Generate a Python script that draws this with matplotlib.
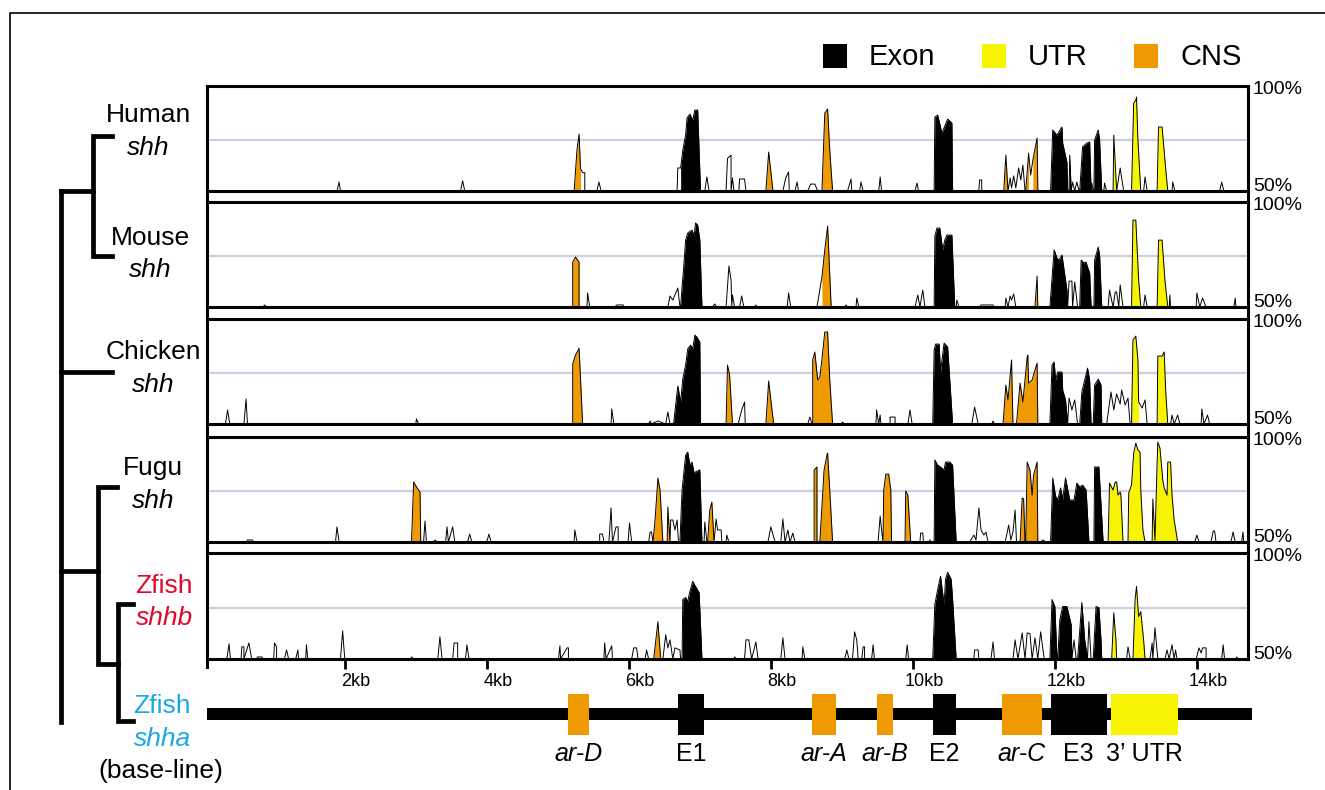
import numpy as np
import matplotlib
matplotlib.use('Agg')
import matplotlib.pyplot as plt
from matplotlib.lines import Line2D
from matplotlib.patches import Rectangle
from matplotlib.transforms import ScaledTranslation

plt.rcParams['font.family'] = ['Liberation Sans', 'DejaVu Sans']

# ---- data: conservation profiles (position in kb, % identity) ----
HUMAN = [
    (1.89, 50), (1.92, 54.4), (1.94, 50),
    (3.63, 50), (3.66, 55), (3.69, 50),
    (5.23, 50), (5.27, 70), (5.30, 78), (5.32, 61), (5.35, 59), (5.38, 59), (5.38, 50),
    (5.55, 50), (5.58, 54.4), (5.61, 50),
    (6.68, 50), (6.69, 61.3), (6.73, 61.3), (6.76, 70), (6.80, 77.4), (6.82, 85.8), (6.86, 87.7),
    (6.90, 84.8), (6.93, 89.7), (6.97, 89.7), (7.01, 50),
    (7.07, 50), (7.10, 56.9), (7.13, 50),
    (7.37, 50), (7.39, 66), (7.44, 67.6), (7.44, 50), (7.46, 56.4), (7.48, 50),
    (7.55, 50), (7.56, 55.9), (7.63, 55.9), (7.65, 50),
    (7.93, 50), (7.97, 69.1), (8.03, 50),
    (8.17, 50), (8.21, 56.4), (8.25, 59.3), (8.26, 50),
    (8.34, 50), (8.37, 54.4), (8.39, 50),
    (8.52, 50), (8.56, 53.4), (8.62, 53.4), (8.66, 50),
    (8.72, 50), (8.76, 88.2), (8.80, 90.2), (8.83, 70), (8.87, 50),
    (9.08, 50), (9.13, 55.9), (9.14, 50),
    (9.25, 50), (9.27, 54.4), (9.30, 50),
    (9.52, 50), (9.54, 56.9), (9.56, 50),
    (10.03, 50), (10.06, 53.9), (10.08, 50),
    (10.30, 50), (10.31, 86.3), (10.35, 87.2), (10.41, 78.4), (10.49, 85.3), (10.55, 83.3), (10.56, 50),
    (10.93, 50), (10.94, 55.4), (10.97, 55.4), (10.97, 50),
    (11.28, 50), (11.31, 67.6), (11.34, 50), (11.37, 56.4), (11.39, 51.5), (11.42, 57.4), (11.45, 51.5),
    (11.49, 61.3), (11.52, 55.4), (11.55, 62.7), (11.58, 50),
    (11.59, 50), (11.63, 68.6), (11.66, 57.8), (11.69, 65.2), (11.75, 76), (11.76, 50),
    (11.94, 50), (11.97, 79.9), (12.03, 77.4), (12.10, 81.4), (12.11, 73.5), (12.17, 64.2), (12.18, 50),
    (12.20, 50), (12.21, 67.6), (12.23, 50), (12.25, 54.4), (12.28, 50), (12.31, 54.4), (12.34, 50),
    (12.35, 50), (12.39, 71.6), (12.45, 73.5), (12.49, 74), (12.51, 50), (12.52, 53.9), (12.54, 50),
    (12.55, 50), (12.56, 75), (12.61, 79.9), (12.63, 75), (12.66, 50),
    (12.69, 50), (12.70, 53.9), (12.73, 50),
    (12.82, 50), (12.83, 77.4), (12.87, 50), (12.92, 61.3), (12.94, 56.4), (12.97, 50),
    (13.08, 50), (13.11, 93.1), (13.14, 94.6), (13.15, 96.1), (13.17, 75), (13.21, 50),
    (13.25, 50), (13.27, 56.9), (13.30, 50),
    (13.44, 50), (13.46, 81.4), (13.51, 81.4), (13.55, 65.2), (13.59, 50),
    (13.65, 50), (13.66, 54.4), (13.69, 50),
    (14.32, 50), (14.35, 54.4), (14.38, 50),
]
HUMAN_FILL = [(5.23, 5.32, 'cns'), (6.73, 7.01, 'exon'), (7.93, 8.03, 'cns'), (8.72, 8.87, 'cns'),
              (10.30, 10.56, 'exon'), (11.28, 11.34, 'cns'), (11.59, 11.64, 'cns'), (11.69, 11.76, 'cns'),
              (11.94, 12.18, 'exon'), (12.20, 12.23, 'exon'), (12.35, 12.51, 'exon'), (12.55, 12.66, 'exon'),
              (12.82, 12.87, 'utr'), (13.08, 13.21, 'utr'), (13.44, 13.59, 'utr')]

MOUSE = [
    (0.85, 50), (0.87, 51), (0.90, 50),
    (5.21, 50), (5.21, 72), (5.25, 74.5), (5.30, 72), (5.30, 50),
    (5.41, 50), (5.42, 56.9), (5.45, 50),
    (5.80, 50), (5.83, 51), (5.92, 51), (5.93, 50),
    (6.55, 50), (6.58, 55.4), (6.62, 53.4), (6.69, 59.3), (6.72, 50),
    (6.73, 50), (6.75, 59.8), (6.77, 68.1), (6.80, 82.8), (6.83, 86.3), (6.89, 87.7), (6.92, 84.8),
    (6.94, 91.2), (6.97, 90.2), (7.00, 82.8), (7.03, 50),
    (7.18, 50), (7.21, 51.5), (7.24, 50),
    (7.37, 50), (7.41, 70.1), (7.44, 63.2), (7.45, 50), (7.46, 55.9), (7.49, 50),
    (7.56, 50), (7.59, 55.4), (7.62, 50),
    (7.77, 50), (7.79, 51), (7.80, 50),
    (8.23, 50), (8.25, 56.9), (8.28, 50),
    (8.65, 50), (8.72, 64.7), (8.76, 78), (8.80, 89.7), (8.85, 50),
    (9.04, 50), (9.06, 51), (9.08, 50),
    (9.20, 50), (9.21, 54.4), (9.24, 50),
    (10.03, 50), (10.07, 55.9), (10.10, 50), (10.14, 58.3), (10.17, 50),
    (10.30, 50), (10.31, 84.8), (10.34, 88.7), (10.38, 88.7), (10.42, 78), (10.45, 82.8), (10.48, 85.3),
    (10.55, 85.3), (10.59, 50),
    (10.61, 50), (10.62, 53.4), (10.65, 50),
    (10.94, 50), (10.96, 51), (11.13, 51), (11.14, 50),
    (11.30, 50), (11.31, 54.4), (11.34, 50), (11.37, 55.4), (11.39, 53.4), (11.42, 56.4), (11.45, 50),
    (11.72, 50), (11.75, 65.2), (11.76, 50),
    (11.93, 50), (11.97, 69.1), (11.99, 78), (12.03, 74), (12.06, 73), (12.10, 75.5), (12.14, 65.7),
    (12.17, 58.3), (12.18, 50),
    (12.20, 62.7), (12.24, 62.7), (12.25, 50), (12.28, 62.2), (12.32, 50),
    (12.35, 50), (12.37, 73), (12.41, 71.6), (12.44, 72), (12.46, 69.6), (12.49, 66.7), (12.51, 50),
    (12.55, 50), (12.56, 73), (12.61, 79.4), (12.63, 75.5), (12.66, 50),
    (12.75, 50), (12.77, 58.3), (12.82, 50), (12.85, 57.4), (12.87, 57.4), (12.90, 50), (12.92, 60.8), (12.96, 50),
    (13.08, 50), (13.10, 92.6), (13.14, 92.6), (13.18, 63.2), (13.21, 50),
    (13.25, 50), (13.27, 55.9), (13.30, 50),
    (13.44, 50), (13.46, 82.8), (13.51, 82.8), (13.55, 63.2), (13.59, 50),
    (13.61, 50), (13.62, 55.9), (13.63, 50),
    (13.99, 50), (14.00, 56.9), (14.04, 50), (14.08, 54.4), (14.13, 50),
    (14.52, 50), (14.54, 54.4), (14.55, 50),
]
MOUSE_FILL = [(5.21, 5.30, 'cns'), (6.73, 7.03, 'exon'), (8.72, 8.85, 'cns'), (10.30, 10.59, 'exon'),
              (11.72, 11.76, 'cns'), (11.93, 12.18, 'exon'), (12.35, 12.51, 'exon'), (12.55, 12.66, 'exon'),
              (13.08, 13.21, 'utr'), (13.44, 13.59, 'utr')]

CHICKEN = [
    (0.32, 50), (0.35, 56.9), (0.38, 50),
    (0.58, 50), (0.61, 62.3), (0.63, 50),
    (3.00, 50), (3.01, 52.5), (3.04, 50),
    (5.21, 50), (5.21, 79.4), (5.25, 83.8), (5.30, 87.2), (5.35, 50),
    (5.75, 50), (5.76, 57.4), (5.79, 50),
    (6.28, 50), (6.30, 51.5), (6.32, 50), (6.41, 51.5), (6.52, 50), (6.55, 55.9), (6.58, 50),
    (6.63, 50), (6.69, 68.6), (6.73, 60.8), (6.76, 72), (6.80, 78.9), (6.83, 86.8), (6.87, 88.7),
    (6.90, 86.8), (6.93, 93.6), (6.96, 92.6), (7.00, 90.2), (7.01, 50),
    (7.37, 50), (7.39, 78.9), (7.42, 74), (7.46, 50),
    (7.54, 50), (7.59, 56.9), (7.63, 60.8), (7.64, 50),
    (7.93, 50), (7.97, 71.1), (8.00, 61.8), (8.04, 50),
    (8.52, 50), (8.55, 53.4), (8.58, 50),
    (8.59, 50), (8.59, 81.4), (8.62, 85.3), (8.66, 71.6), (8.69, 73), (8.72, 81.9), (8.76, 95.1),
    (8.80, 95.1), (8.83, 71.6), (8.87, 50),
    (8.99, 50), (9.01, 51), (9.03, 50),
    (9.48, 50), (9.49, 56.9), (9.52, 50), (9.54, 54.4), (9.55, 50),
    (9.68, 50), (9.68, 53.4), (9.75, 53.4), (9.75, 50),
    (9.93, 50), (9.96, 56.9), (9.99, 50),
    (10.28, 50), (10.30, 86.3), (10.32, 89.2), (10.37, 89.2), (10.39, 75.5), (10.44, 89.7), (10.49, 87.7), (10.56, 50),
    (10.83, 50), (10.87, 58.3), (10.92, 50),
    (11.11, 50), (11.13, 51.5), (11.15, 50),
    (11.27, 50), (11.31, 69.1), (11.34, 61.8), (11.39, 81.4), (11.41, 50),
    (11.46, 50), (11.51, 70.1), (11.55, 60.8), (11.61, 82.8), (11.62, 83.8), (11.63, 70.1), (11.68, 71.6),
    (11.72, 76.5), (11.75, 79.9), (11.76, 50),
    (11.93, 50), (11.96, 78.9), (11.99, 80.4), (12.01, 71.6), (12.04, 75.5), (12.10, 75.5), (12.11, 66.7),
    (12.15, 61.8), (12.18, 50),
    (12.20, 62.7), (12.24, 56.9), (12.28, 61.8), (12.32, 50),
    (12.35, 50), (12.38, 65.7), (12.42, 71.6), (12.46, 77.4), (12.49, 71.6), (12.51, 50),
    (12.54, 50), (12.56, 69.1), (12.61, 72), (12.65, 69.1), (12.66, 50),
    (12.73, 50), (12.79, 65.7), (12.83, 56.9), (12.87, 64.7), (12.92, 59.8), (12.94, 66.7), (12.99, 59.3),
    (13.03, 62.7), (13.06, 50),
    (13.08, 50), (13.10, 91.2), (13.14, 93.1), (13.17, 81.4), (13.18, 60.8), (13.23, 57.8), (13.27, 61.8), (13.30, 50),
    (13.44, 50), (13.45, 83.3), (13.51, 83.3), (13.54, 85.3), (13.56, 66.7), (13.59, 50),
    (13.63, 50), (13.65, 54.4), (13.68, 50), (13.73, 54.4), (13.76, 50),
    (14.06, 50), (14.07, 57.4), (14.10, 50), (14.15, 54.4), (14.18, 50),
]
CHICKEN_FILL = [(5.21, 5.35, 'cns'), (6.63, 7.01, 'exon'), (7.37, 7.46, 'cns'), (7.93, 8.04, 'cns'),
                (8.59, 8.87, 'cns'), (10.28, 10.56, 'exon'), (11.27, 11.41, 'cns'), (11.46, 11.76, 'cns'),
                (11.93, 12.18, 'exon'), (12.35, 12.51, 'exon'), (12.54, 12.66, 'exon'),
                (13.08, 13.18, 'utr'), (13.44, 13.59, 'utr')]

FUGU = [
    (0.62, 50), (0.63, 51), (0.70, 51), (0.72, 50),
    (1.87, 50), (1.89, 57.4), (1.92, 50),
    (2.94, 50), (2.97, 79.4), (3.01, 77), (3.06, 74.5), (3.07, 50),
    (3.11, 50), (3.13, 60.3), (3.15, 50),
    (3.25, 50), (3.27, 51), (3.30, 50),
    (3.42, 50), (3.44, 57.4), (3.46, 50), (3.52, 57.4), (3.55, 50),
    (3.73, 50), (3.76, 53.9), (3.79, 50),
    (4.00, 50), (4.03, 53.9), (4.06, 50),
    (5.23, 50), (5.24, 55.9), (5.27, 50),
    (5.59, 50), (5.59, 53.9), (5.63, 53.9), (5.65, 50),
    (5.72, 50), (5.75, 66.7), (5.77, 50), (5.82, 57.4), (5.85, 57.4), (5.85, 50),
    (5.99, 50), (6.01, 59.3), (6.04, 50),
    (6.28, 50), (6.30, 54.9), (6.32, 54.9),
    (6.34, 50), (6.37, 60.8), (6.41, 81.4), (6.44, 75.5), (6.48, 50),
    (6.54, 50), (6.55, 67.2), (6.58, 50),
    (6.59, 60.8), (6.62, 60.8), (6.65, 55.9), (6.68, 60.8), (6.70, 50),
    (6.72, 50), (6.75, 75.5), (6.80, 92.6), (6.83, 94.1), (6.86, 87.7), (6.89, 89.2), (6.92, 83.8),
    (6.96, 84.8), (7.00, 85.3), (7.03, 50),
    (7.06, 50), (7.07, 59.8), (7.10, 50),
    (7.11, 50), (7.14, 65.7), (7.17, 69.6), (7.20, 50),
    (7.23, 61.3), (7.25, 55.9), (7.30, 55.9), (7.31, 50),
    (7.37, 50), (7.38, 53.4), (7.41, 50),
    (7.96, 50), (8.00, 57.4), (8.06, 50),
    (8.14, 50), (8.17, 61.3), (8.20, 50), (8.24, 55.9), (8.27, 50), (8.31, 54.4), (8.34, 50),
    (8.61, 50), (8.61, 85.3), (8.65, 86.8), (8.65, 50),
    (8.69, 50), (8.75, 85.3), (8.79, 92.6), (8.80, 93.6), (8.83, 75.5), (8.87, 50),
    (9.51, 50), (9.54, 62.7), (9.56, 55.9),
    (9.58, 50), (9.59, 75.5), (9.62, 83.3), (9.66, 83.3), (9.69, 75.5), (9.70, 50),
    (9.89, 50), (9.90, 75), (9.93, 73), (9.97, 50),
    (10.10, 50), (10.11, 54.4), (10.14, 54.4), (10.15, 50),
    (10.23, 50), (10.24, 51), (10.25, 50),
    (10.30, 50), (10.31, 90.2), (10.35, 87.7), (10.39, 86.8), (10.44, 85.3), (10.46, 89.2), (10.52, 89.2),
    (10.56, 87.7), (10.61, 50),
    (10.80, 50), (10.86, 53.4), (10.89, 51), (10.93, 66.7), (10.96, 55.9), (11.00, 53.4), (11.03, 54.9), (11.06, 50),
    (11.30, 50), (11.32, 53.4), (11.35, 58.3), (11.38, 51), (11.41, 54.9), (11.44, 65.7), (11.46, 50),
    (11.51, 50), (11.54, 71.6), (11.56, 71.1), (11.58, 50),
    (11.59, 50), (11.61, 89.2), (11.65, 85.3), (11.68, 73), (11.70, 82.8), (11.75, 89.2), (11.76, 50),
    (11.80, 50), (11.83, 51), (11.87, 50),
    (11.94, 50), (11.97, 81.4), (12.01, 72.5), (12.04, 70.6), (12.08, 76.5), (12.11, 71.1), (12.15, 81.4),
    (12.21, 70.6), (12.27, 70.6), (12.31, 78.9), (12.35, 77), (12.39, 77.9), (12.44, 75.5), (12.48, 50),
    (12.55, 50), (12.56, 86.8), (12.62, 86.8), (12.68, 50),
    (12.75, 50), (12.77, 78.9), (12.82, 75.5), (12.85, 79.4), (12.87, 79.4), (12.89, 73), (12.92, 74.5),
    (12.93, 73), (12.96, 50),
    (13.03, 50), (13.04, 74), (13.08, 78), (13.11, 93.6), (13.14, 98.5), (13.17, 95.1), (13.20, 94.1),
    (13.21, 75.5), (13.24, 55.9), (13.27, 50),
    (13.37, 50), (13.38, 71.1), (13.41, 51), (13.44, 88.7), (13.45, 99), (13.48, 96.1), (13.52, 80.4),
    (13.54, 76.5), (13.58, 73), (13.59, 89.2), (13.63, 89.2), (13.65, 73), (13.68, 60.8), (13.73, 50),
    (13.97, 50), (14.00, 53.4), (14.03, 50),
    (14.20, 50), (14.23, 55.4), (14.25, 55.4), (14.27, 50),
    (14.48, 50), (14.51, 54.9), (14.54, 50),
    (14.63, 50), (14.65, 54.9), (14.66, 50),
]
FUGU_FILL = [(2.94, 3.07, 'cns'), (6.34, 6.48, 'cns'), (6.54, 6.58, 'cns'), (6.72, 7.03, 'exon'),
             (7.11, 7.20, 'cns'), (8.61, 8.65, 'cns'), (8.69, 8.87, 'cns'), (9.58, 9.70, 'cns'),
             (9.89, 9.97, 'cns'), (10.30, 10.61, 'exon'), (11.51, 11.58, 'cns'), (11.59, 11.76, 'cns'),
             (11.94, 12.48, 'exon'), (12.55, 12.68, 'exon'), (12.75, 12.96, 'utr'), (13.03, 13.27, 'utr'),
             (13.37, 13.73, 'utr')]

ZFISH_B = [
    (0.34, 50), (0.37, 57.4), (0.39, 50),
    (0.54, 50), (0.55, 55.9), (0.58, 55.9), (0.58, 50), (0.65, 57.8), (0.69, 50),
    (0.76, 50), (0.77, 51), (0.83, 51), (0.85, 50),
    (1.00, 50), (1.01, 57.8), (1.04, 55.9), (1.04, 50),
    (1.15, 50), (1.18, 54.4), (1.21, 50),
    (1.31, 50), (1.34, 54.4), (1.35, 50),
    (1.45, 50), (1.46, 56.9), (1.48, 50),
    (1.94, 50), (1.97, 63.7), (2.00, 50),
    (2.93, 50), (2.94, 51), (2.97, 50),
    (3.31, 50), (3.34, 60.8), (3.37, 50),
    (3.52, 50), (3.54, 57.8), (3.59, 57.8), (3.59, 50),
    (3.70, 50), (3.72, 56.9), (3.75, 50),
    (5.01, 50), (5.03, 56.4), (5.04, 50), (5.13, 55.4), (5.15, 55.4), (5.15, 50),
    (5.65, 50), (5.66, 57.8), (5.68, 50), (5.76, 56.4), (5.77, 50),
    (6.04, 50), (6.07, 55.4), (6.11, 55.4), (6.13, 50),
    (6.23, 50), (6.25, 54.4), (6.28, 50),
    (6.35, 50), (6.41, 68.1), (6.45, 50),
    (6.48, 50), (6.52, 61.8), (6.55, 55.4), (6.58, 59.3), (6.62, 50), (6.65, 55.4), (6.72, 54.4), (6.73, 50),
    (6.75, 50), (6.76, 78.9), (6.80, 79.9), (6.83, 77.9), (6.86, 82.8), (6.90, 87.7), (6.93, 85.8),
    (6.99, 82.3), (7.03, 50),
    (7.48, 50), (7.49, 51), (7.52, 50),
    (7.63, 50), (7.65, 59.3), (7.69, 59.3), (7.73, 50), (7.79, 58.3), (7.82, 50),
    (8.14, 50), (8.17, 60.3), (8.20, 50),
    (8.44, 50), (8.45, 55.9), (8.48, 50),
    (9.04, 50), (9.07, 54.4), (9.10, 50),
    (9.15, 50), (9.18, 63.2), (9.21, 59.3), (9.23, 50),
    (9.28, 50), (9.30, 55.9), (9.32, 55.9), (9.32, 50),
    (9.42, 50), (9.44, 56.9), (9.46, 50),
    (9.90, 50), (9.92, 56.9), (9.94, 50),
    (10.28, 50), (10.31, 76.5), (10.35, 83.8), (10.39, 90.2), (10.44, 76.5), (10.46, 88.7), (10.49, 92.1),
    (10.54, 88.7), (10.56, 78.9), (10.61, 50),
    (10.86, 50), (10.87, 54.4), (10.92, 54.4), (10.93, 50),
    (11.10, 50), (11.13, 58.3), (11.15, 50),
    (11.41, 50), (11.44, 59.3), (11.48, 50), (11.54, 62.7), (11.58, 50), (11.61, 62.7), (11.65, 62.3),
    (11.68, 50), (11.72, 60.3), (11.76, 50), (11.80, 63.2), (11.85, 50),
    (11.93, 50), (11.96, 78.9), (12.00, 75.5), (12.03, 50),
    (12.04, 50), (12.07, 69.1), (12.11, 75.5), (12.17, 75.5), (12.23, 66.7), (12.24, 50),
    (12.27, 59.3), (12.30, 50),
    (12.32, 50), (12.38, 77.4), (12.42, 59.3), (12.46, 50),
    (12.48, 68.1), (12.51, 50),
    (12.54, 50), (12.58, 75.5), (12.62, 75), (12.65, 59.3), (12.66, 50),
    (12.80, 50), (12.83, 72.5), (12.86, 59.3), (12.87, 50),
    (13.01, 50), (13.03, 55.9), (13.06, 50),
    (13.10, 50), (13.13, 78.9), (13.15, 85.3), (13.18, 70.6), (13.21, 73), (13.25, 59.3), (13.27, 50),
    (13.34, 50), (13.37, 57.8), (13.38, 50), (13.41, 65.2), (13.45, 50),
    (13.55, 50), (13.58, 54.4), (13.61, 50), (13.65, 56.9), (13.68, 50), (13.70, 54.4), (13.72, 50),
    (13.99, 50), (14.03, 55.4), (14.06, 52.9), (14.08, 55.4), (14.13, 55.4), (14.13, 50),
    (14.35, 50), (14.37, 56.9), (14.39, 50),
    (14.55, 50), (14.56, 51), (14.58, 50),
]
ZFISH_B_FILL = [(6.35, 6.45, 'cns'), (6.75, 7.03, 'exon'), (10.28, 10.61, 'exon'), (11.93, 12.03, 'exon'),
                (12.04, 12.24, 'exon'), (12.32, 12.46, 'exon'), (12.54, 12.66, 'exon'),
                (12.80, 12.87, 'utr'), (13.10, 13.27, 'utr')]

PROFILES = [HUMAN, MOUSE, CHICKEN, FUGU, ZFISH_B]
PROFILE_FILLS = [HUMAN_FILL, MOUSE_FILL, CHICKEN_FILL, FUGU_FILL, ZFISH_B_FILL]

species = ['Human', 'Mouse', 'Chicken', 'Fugu', 'Zfish', 'Zfish']
gene_names = ['shh', 'shh', 'shh', 'shh', 'shhb', 'shha']
species_colors = ['black', 'black', 'black', 'black', '#e0062c', '#1aa8e2']

# baseline gene model (zebrafish shha)
feat_names = ['ar-D', 'E1', 'ar-A', 'ar-B', 'E2', 'ar-C', 'E3', "3\u2019 UTR"]
feat_start = [5.15, 6.69, 8.58, 9.49, 10.28, 11.25, 11.94, 12.79]
feat_end = [5.44, 7.06, 8.92, 9.72, 10.61, 11.82, 12.73, 13.73]
feat_kind = ['cns', 'exon', 'cns', 'cns', 'exon', 'cns', 'exon', 'utr']
gene_span = (0.06, 14.77)

kb_ticks = [2, 4, 6, 8, 10, 12, 14]

COLORS = {'exon': '#000000', 'utr': '#f8f300', 'cns': '#ee9a00'}

# ---- layout (pixels of a 1325x790 canvas) ----
W, H = 1325, 790
fig = plt.figure(figsize=(W / 100, H / 100), dpi=100)


def fx(px):
    return px / W


def fy(py):
    return 1 - py / H


X_LEFT, X_RIGHT = 207, 1248
panel_px = [(86, 191), (202, 307), (319, 424), (437, 542), (553, 659)]
XLIM = (0.06, 14.72)

axes = []
for pts, fills, (top, bot) in zip(PROFILES, PROFILE_FILLS, panel_px):
    ax = fig.add_axes([fx(X_LEFT), fy(bot), fx(X_RIGHT) - fx(X_LEFT), (bot - top) / H])
    ax.set_xlim(*XLIM)
    ax.set_ylim(50, 101.5)
    ax.axhline(75, color='#cfcce6', lw=1.6, zorder=0)
    x, y = np.array(pts).T
    for a, b, kind in fills:
        m = (x >= a - 1e-6) & (x <= b + 1e-6)
        ax.fill_between(x[m], y[m], 50, color=COLORS[kind], lw=0, zorder=2)
    ax.plot(x, y, color='black', lw=0.7, zorder=3)
    for s in ['left', 'right']:
        ax.spines[s].set_visible(False)
    for s in ['top', 'bottom']:
        ax.spines[s].set_linewidth(2.2)
    ax.set_xticks([])
    ax.set_yticks([])
    ax.text(1.004, 1.05, '100%', transform=ax.transAxes, ha='left', va='top', fontsize=14)
    ax.text(1.005, 0.0, '50%', transform=ax.transAxes, ha='left', va='baseline', fontsize=14)
    axes.append(ax)

# kb axis on the last panel
ax = axes[-1]
ax.set_xticks(kb_ticks)
ax.set_xticklabels([f'{t}kb' for t in kb_ticks])
ax.tick_params(axis='x', direction='out', length=7, width=2, labelsize=13, pad=3)
shift = ScaledTranslation(11 / 100, 0, fig.dpi_scale_trans)
for lbl in ax.get_xticklabels():
    lbl.set_transform(lbl.get_transform() + shift)

# continuous side borders of the panel stack
fig.add_artist(Line2D([fx(X_LEFT), fx(X_LEFT)], [fy(86), fy(667)], color='black', lw=2.2))
fig.add_artist(Line2D([fx(X_RIGHT), fx(X_RIGHT)], [fy(86), fy(659)], color='black', lw=2.2))

# gene model
gax = fig.add_axes([fx(X_LEFT), fy(735), fx(X_RIGHT) - fx(X_LEFT), 41 / H])
gax.set_xlim(*XLIM)
gax.set_ylim(0, 1)
gax.axis('off')
gax.add_patch(Rectangle((gene_span[0], 0.366), gene_span[1] - gene_span[0], 0.29,
                        color='black', lw=0, clip_on=False))
for name, s, e, k in zip(feat_names, feat_start, feat_end, feat_kind):
    gax.add_patch(Rectangle((s, 0), e - s, 1, color=COLORS[k], lw=0, clip_on=False, zorder=3))
    style = 'italic' if name.startswith('ar-') else 'normal'
    gax.text((s + e) / 2, -0.47, name, ha='center', va='center', fontsize=18, style=style)

# species labels
label_pos = [(148, 115, 148), (150, 238, 270), (153, 352, 385), (153, 468, 501), (164, 586, 618),
             (162, 706, 739)]
for sp, gn, col, (cx, y1, y2) in zip(species, gene_names, species_colors, label_pos):
    fig.text(fx(cx), fy(y1), sp, ha='center', va='center', fontsize=19, color=col)
    fig.text(fx(cx), fy(y2), gn, ha='center', va='center', fontsize=19, color=col, style='italic')
fig.text(fx(161), fy(771), '(base-line)', ha='center', va='center', fontsize=19)

# tree
tree_lw = 3.4
tree = [
    [(112, 136), (93, 136), (93, 256), (112, 256)],
    [(93, 191), (61, 191)],
    [(61, 191), (61, 722)],
    [(61, 372), (112, 372)],
    [(61, 571), (98, 571)],
    [(117, 487), (98, 487), (98, 664), (118, 664)],
    [(133, 604), (118, 604), (118, 721), (133, 721)],
]
for seg in tree:
    xs = [fx(p[0]) for p in seg]
    ys = [fy(p[1]) for p in seg]
    fig.add_artist(Line2D(xs, ys, color='black', lw=tree_lw, solid_joinstyle='miter',
                          solid_capstyle='projecting'))

# legend
legend_items = [('Exon', 'exon', 823), ('UTR', 'utr', 982), ('CNS', 'cns', 1134)]
for txt, k, px in legend_items:
    fig.add_artist(Rectangle((fx(px), fy(68)), 24 / W, 24 / H, color=COLORS[k], lw=0))
    fig.text(fx(px + 46), fy(57), txt, ha='left', va='center', fontsize=21)

# outer frame
fig.add_artist(Line2D([fx(10), fx(10), 1.0], [0.0, fy(13), fy(13)], color='black', lw=1.2))

fig.savefig('out.png', dpi=100)
